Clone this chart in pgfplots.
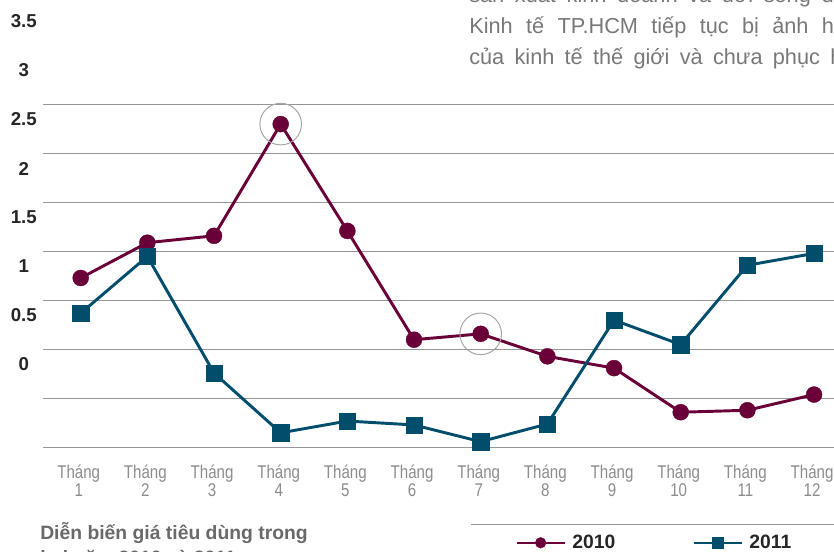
\documentclass[border=0pt]{standalone}
\usepackage{fontspec}
\setmainfont{Liberation Sans}
\newfontfamily\condfont[FakeStretch=0.82]{Liberation Sans}
\usepackage{pgfplots}
\pgfplotsset{compat=1.18}
\definecolor{cpurple}{RGB}{106,0,56}
\definecolor{cblue}{RGB}{0,78,108}
\definecolor{cgrid}{RGB}{150,150,150}
\definecolor{ctick}{RGB}{140,140,140}
\definecolor{cpara}{RGB}{120,120,120}
\definecolor{ctitle}{RGB}{105,105,105}
\definecolor{cdark}{RGB}{38,38,38}
\begin{document}
\begin{tikzpicture}
\useasboundingbox (0,0) rectangle (625.5pt,413.25pt);
\clip (0,0) rectangle (625.5pt,413.25pt);
% paragraph text (cut off by the frame, as in the reference)
\node[anchor=base west, inner sep=0, font=\fontsize{16.3}{16.3}\selectfont, text=cpara] at (351.75pt,411pt) {\spaceskip=8pt sản xuất kinh doanh và đời sống dân cư.};
\node[anchor=base west, inner sep=0, font=\fontsize{16.3}{16.3}\selectfont, text=cpara] at (351.75pt,388pt) {\spaceskip=10pt Kinh tế TP.HCM tiếp tục bị ảnh hưởng};
\node[anchor=base west, inner sep=0, font=\fontsize{16.3}{16.3}\selectfont, text=cpara] at (351.75pt,365pt) {\spaceskip=7.7pt của kinh tế thế giới và chưa phục hồi};
\begin{axis}[
  at={(32.25pt,77.625pt)}, anchor=south west,
  x=50pt, y=73.5pt,
  xmin=0.4345, xmax=12.5, ymin=-1, ymax=3.566,
  clip=false,
  axis line style={draw=none},
  major tick length=0pt,
  ytick={0,0.5,1,1.5,2,2.5,3,3.5},
  yticklabels={0,0.5,1,1.5,2,2.5,3,3.5},
  yticklabel style={font=\bfseries\fontsize{14}{14}\selectfont, text=cdark, anchor=center, xshift=-14.4pt, yshift=-11.25pt},
  extra y ticks={-1,-0.5,0,0.5,1,1.5,2,2.5},
  extra y tick labels={},
  extra y tick style={grid=major},
  major grid style={cgrid, line width=0.75pt},
  xtick={1,2,3,4,5,6,7,8,9,10,11,12},
  xticklabels={{Tháng\\1},{Tháng\\2},{Tháng\\3},{Tháng\\4},{Tháng\\5},{Tháng\\6},{Tháng\\7},{Tháng\\8},{Tháng\\9},{Tháng\\10},{Tháng\\11},{Tháng\\12}},
  xticklabel style={align=center, font=\condfont\fontsize{13.8}{10}\selectfont, text=ctick, xshift=-1.5pt, yshift=-9.5pt},
  legend columns=2,
  legend style={at={(axis cs:7.52,-1.972)}, anchor=west, draw=none, fill=none, inner sep=0pt,
    font=\bfseries\fontsize{14.5}{14.5}\selectfont, text=cdark,
    /tikz/every odd column/.append style={column sep=3pt},
    /tikz/every even column/.append style={column sep=56pt}},
  legend image code/.code={\draw[mark repeat=2, mark phase=2, mark size=4pt, line width=1.5pt] plot coordinates {(0pt,0pt) (18pt,0pt) (36pt,0pt)};},
]
\addplot[forget plot, only marks, mark=o, mark size=15.6pt, mark options={draw=black!35, line width=0.75pt}] coordinates {(4,2.30) (7,0.16)};
\addplot[cpurple, line width=2.2pt, mark=*, mark size=6pt, mark options={fill=cpurple, draw=cpurple, line width=0.3pt}] coordinates {
(1,0.73) (2,1.09) (3,1.16) (4,2.30) (5,1.21) (6,0.10) (7,0.16) (8,-0.07) (9,-0.19) (10,-0.64) (11,-0.62) (12,-0.46)};
\addlegendentry{2010}
\addplot[cblue, line width=2.2pt, mark=square*, mark size=6.1pt, mark options={fill=cblue, draw=cblue, line width=0.3pt}] coordinates {
(1,0.37) (2,0.95) (3,-0.24) (4,-0.85) (5,-0.73) (6,-0.77) (7,-0.94) (8,-0.76) (9,0.30) (10,0.05) (11,0.86) (12,0.98)};
\addlegendentry{2011}
\end{axis}
\draw[cgrid, line width=0.75pt] (353.25pt,20.0pt) -- (625.5pt,20.0pt);
\node[anchor=base west, inner sep=0, font=\bfseries\fontsize{14.5}{14.5}\selectfont, text=ctitle] at (30pt,9pt) {Diễn biến giá tiêu dùng trong};
\node[anchor=base west, inner sep=0, font=\bfseries\fontsize{14.5}{14.5}\selectfont, text=ctitle] at (30pt,-9.75pt) {hai năm 2010 và 2011};
\end{tikzpicture}
\end{document}
